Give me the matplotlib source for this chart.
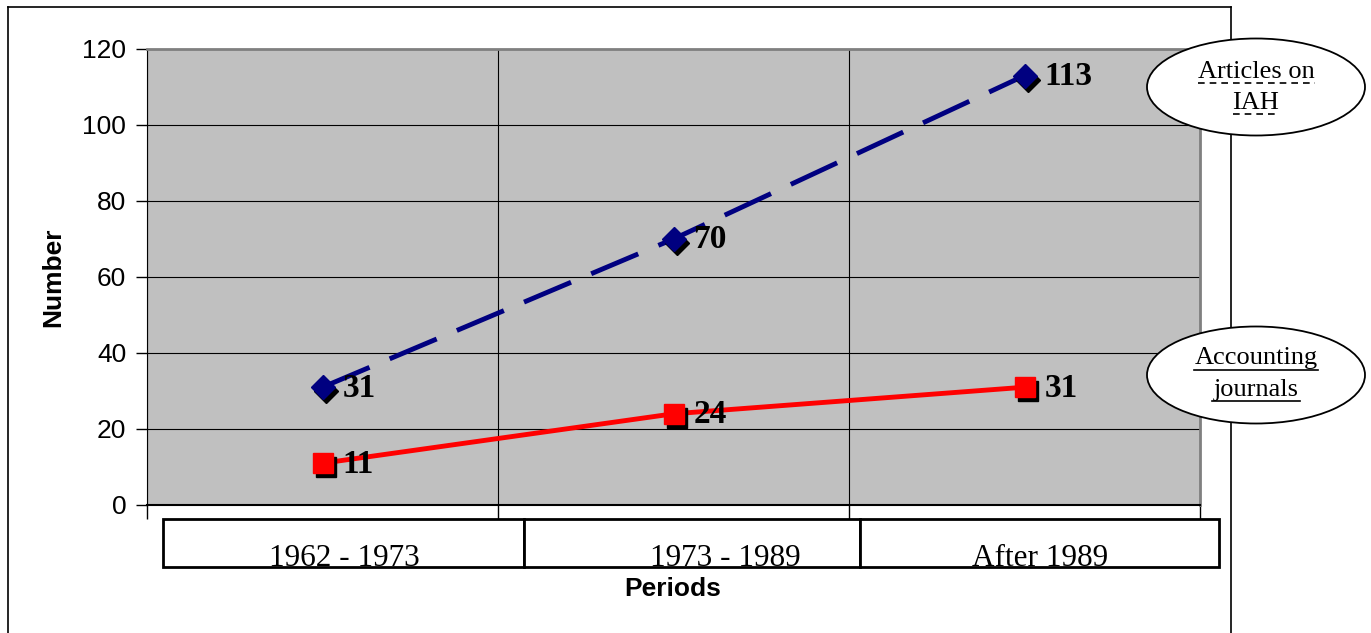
import matplotlib
matplotlib.use("Agg")
import matplotlib.pyplot as plt
import matplotlib.transforms as mtransforms
from matplotlib.patches import Ellipse, Rectangle
from matplotlib.lines import Line2D

periods = ["1962 - 1973", "1973 - 1989", "After 1989"]
articles = [31, 70, 113]
journals = [11, 24, 31]
yticks = [0, 20, 40, 60, 80, 100, 120]

W, H = 1371, 633
fig = plt.figure(figsize=(W / 100, H / 100), dpi=100)


def fx(px):
    return px / W


def fy(py):
    return 1 - py / H


# outer frame
fig.add_artist(Line2D([fx(8), fx(8)], [fy(7), 0], color="black", lw=1.2))
fig.add_artist(Line2D([fx(8), fx(1231)], [fy(7), fy(7)], color="black", lw=1.2))
fig.add_artist(Line2D([fx(1231), fx(1231)], [fy(7), 0], color="black", lw=1.2))

ax = fig.add_axes([fx(147), fy(505), fx(1200) - fx(147), fy(49) - fy(505)])
ax.set_facecolor("#C0C0C0")
ax.set_xlim(0, 3)
ax.set_ylim(0, 120)
x = [0.5, 1.5, 2.5]

ax.set_yticks(yticks)
ax.set_yticklabels([str(v) for v in yticks], fontsize=19, family="Liberation Sans")
ax.set_xticks([0, 1, 2, 3])
ax.set_xticklabels([])
ax.tick_params(axis="y", length=8, width=1, pad=7)
ax.tick_params(axis="x", length=10, width=1, direction="out")
ax.grid(True, color="black", lw=0.8)
ax.set_axisbelow(True)
for s in ["top", "right"]:
    ax.spines[s].set_color("#808080")
    ax.spines[s].set_linewidth(2)
ax.spines["left"].set_color("black")
ax.spines["bottom"].set_color("black")
ax.spines["bottom"].set_linewidth(1.5)

shadow = mtransforms.offset_copy(ax.transData, fig=fig, x=3, y=-4, units="dots")

ax.plot(x, articles, color="#000080", lw=3.5, ls=(0, (10.5, 4.5)), zorder=3)
ax.plot(x, articles, ls="none", marker="D", ms=12, color="black", transform=shadow, zorder=4)
ax.plot(x, articles, ls="none", marker="D", ms=12, color="#000080", zorder=5)

ax.plot(x, journals, color="#FF0000", lw=3.5, zorder=3)
ax.plot(x, journals, ls="none", marker="s", ms=14, color="black", transform=shadow, zorder=4)
ax.plot(x, journals, ls="none", marker="s", ms=14, color="#FF0000", zorder=5)

for xi, v in zip(x, articles):
    ax.annotate(str(v), (xi, v), xytext=(20, -1), textcoords="offset pixels",
                ha="left", va="center", fontsize=24, fontweight="bold",
                family="Liberation Serif", zorder=6)
for xi, v in zip(x, journals):
    ax.annotate(str(v), (xi, v), xytext=(20, -1), textcoords="offset pixels",
                ha="left", va="center", fontsize=24, fontweight="bold",
                family="Liberation Serif", zorder=6)

ax.set_ylabel("Number", fontsize=19, fontweight="bold", family="Liberation Sans", labelpad=12)

# period boxes
edges = [163, 524, 860, 1219]
centers = [344, 725, 1040]
for i, lab in enumerate(periods):
    r = Rectangle((fx(edges[i]), fy(567)), fx(edges[i + 1] - edges[i]), fy(519) - fy(567),
                  transform=fig.transFigure, facecolor="white", edgecolor="black", lw=2)
    fig.add_artist(r)
    t = fig.text(fx(centers[i]), fy(559), lab, ha="center", va="center", fontsize=22.5,
                 family="Liberation Serif")
    t.set_clip_path(r)

fig.text(fx(673), fy(589), "Periods", ha="center", va="center", fontsize=19,
         fontweight="bold", family="Liberation Sans")

# legend ellipses
for cy, lines, ulines, dashed in [
    (87, [("Articles on", 72), ("IAH", 103)], [(83, 1198, 1315), (114, 1233, 1278)], True),
    (375, [("Accounting", 358), ("journals", 390)], [(370, 1194, 1318), (401, 1212, 1300)], False),
]:
    e = Ellipse((fx(1256), fy(cy)), fx(218), fy(0) - fy(97), transform=fig.transFigure,
                facecolor="white", edgecolor="black", lw=1.3, zorder=5)
    fig.add_artist(e)
    for txt, ty in lines:
        fig.text(fx(1256), fy(ty), txt, ha="center", va="center", fontsize=19,
                 family="Liberation Serif", zorder=6)
    for uy, x0, x1 in ulines:
        fig.add_artist(Line2D([fx(x0), fx(x1)], [fy(uy), fy(uy)], color="black", lw=1.2,
                              ls=(0, (4, 3)) if dashed else "-", zorder=6))

fig.savefig("out.png", dpi=100)
